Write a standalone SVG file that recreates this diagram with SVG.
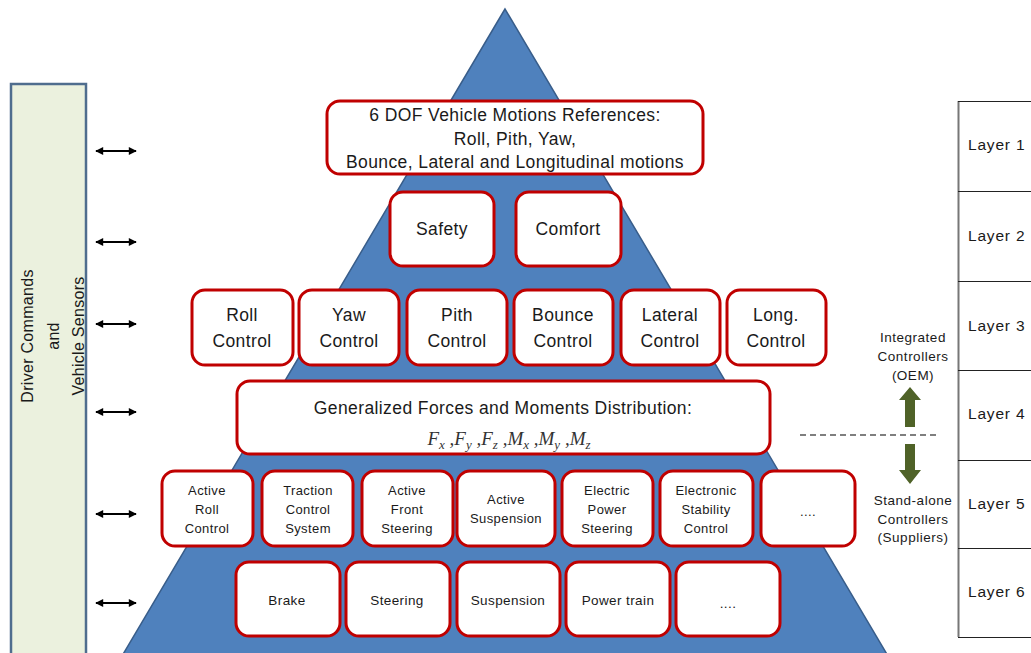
<svg xmlns="http://www.w3.org/2000/svg" width="1031" height="653" viewBox="0 0 1031 653">
<style>
.t{font-family:"Liberation Sans",Arial,sans-serif;fill:#1a1a1a;text-anchor:middle}
.b{fill:#fff;stroke:#C00000;stroke-width:3}
.f16{font-size:17.5px;letter-spacing:0.4px}
.fv{font-size:16px;letter-spacing:0.3px}
.f12{font-size:13px;letter-spacing:0.4px}
.f13{font-size:13.5px;letter-spacing:0.4px}
.lg{font-size:13.5px;letter-spacing:0.5px}
.ar{stroke:#000;stroke-width:2;marker-start:url(#ah);marker-end:url(#ah)}
.lay{font-family:"Liberation Sans",Arial,sans-serif;font-size:15.5px;letter-spacing:0.8px;fill:#1a1a1a}
.m{font-family:"Liberation Serif","Times New Roman",serif;font-style:italic;font-size:19px;fill:#333}
.ms{font-size:13px}
</style>
<defs>
<marker id="ah" viewBox="0 0 10 10" refX="9" refY="5" markerWidth="5" markerHeight="4" orient="auto-start-reverse" markerUnits="strokeWidth">
<path d="M0,0 L10,5 L0,10 z" fill="#000"/>
</marker>
</defs>
<rect width="1031" height="653" fill="#fff"/>
<g id="pyramid">
<polygon points="505,9 122,656 888,656" fill="#4F81BD" stroke="#385D8A" stroke-width="1.5"/>
</g>
<g id="side-panel">
<rect x="11" y="84" width="75" height="580" fill="#EBF1DE" stroke="#4F6D8E" stroke-width="2.5"/>
<g transform="translate(48,336) rotate(-90)">
<text class="t fv" x="0" y="-15">Driver Commands</text>
<text class="t fv" x="0" y="11">and</text>
<text class="t fv" x="0" y="36">Vehicle Sensors</text>
</g>
</g>
<g id="connectors">
<line class="ar" x1="96" y1="151" x2="136" y2="151"/>
<line class="ar" x1="96" y1="242" x2="136" y2="242"/>
<line class="ar" x1="96" y1="324" x2="136" y2="324"/>
<line class="ar" x1="96" y1="412" x2="136" y2="412"/>
<line class="ar" x1="96" y1="514" x2="136" y2="514"/>
<line class="ar" x1="96" y1="603" x2="136" y2="603"/>
</g>
<g id="n-dof">
<rect class="b" x="327" y="101" width="376" height="73" rx="13"/>
<text class="t f16" x="515" y="121">6 DOF Vehicle Motions References:</text>
<text class="t f16" x="515" y="145">Roll, Pith, Yaw,</text>
<text class="t f16" x="515" y="168">Bounce, Lateral and Longitudinal motions</text>
</g>
<g id="n-safety">
<rect class="b" x="390" y="192" width="104" height="74" rx="13"/>
<text class="t f16" x="442" y="235">Safety</text>
</g>
<g id="n-comfort">
<rect class="b" x="516" y="192" width="105" height="74" rx="13"/>
<text class="t f16" x="568" y="235">Comfort</text>
</g>
<g id="n-roll">
<rect class="b" x="192" y="290" width="101" height="75" rx="13"/>
<text class="t f16" x="242" y="321">Roll</text>
<text class="t f16" x="242" y="347">Control</text>
</g>
<g id="n-yaw">
<rect class="b" x="299" y="290" width="100" height="75" rx="13"/>
<text class="t f16" x="349" y="321">Yaw</text>
<text class="t f16" x="349" y="347">Control</text>
</g>
<g id="n-pith">
<rect class="b" x="407" y="290" width="100" height="75" rx="13"/>
<text class="t f16" x="457" y="321">Pith</text>
<text class="t f16" x="457" y="347">Control</text>
</g>
<g id="n-bounce">
<rect class="b" x="514" y="290" width="99" height="75" rx="13"/>
<text class="t f16" x="563" y="321">Bounce</text>
<text class="t f16" x="563" y="347">Control</text>
</g>
<g id="n-lateral">
<rect class="b" x="621" y="290" width="99" height="75" rx="13"/>
<text class="t f16" x="670" y="321">Lateral</text>
<text class="t f16" x="670" y="347">Control</text>
</g>
<g id="n-long">
<rect class="b" x="727" y="290" width="99" height="75" rx="13"/>
<text class="t f16" x="776" y="321">Long.</text>
<text class="t f16" x="776" y="347">Control</text>
</g>
<g id="n-forces">
<rect class="b" x="237" y="381" width="533" height="73" rx="13"/>
<text class="t f16" x="503" y="414">Generalized Forces and Moments Distribution:</text>
<text class="m" x="509" y="445" text-anchor="middle">F<tspan class="ms" dy="4">x</tspan><tspan dy="-4"> ,F</tspan><tspan class="ms" dy="4">y</tspan><tspan dy="-4"> ,F</tspan><tspan class="ms" dy="4">z</tspan><tspan dy="-4"> ,M</tspan><tspan class="ms" dy="4">x</tspan><tspan dy="-4"> ,M</tspan><tspan class="ms" dy="4">y</tspan><tspan dy="-4"> ,M</tspan><tspan class="ms" dy="4">z</tspan></text>
</g>
<g id="n-arc">
<rect class="b" x="162" y="471" width="91" height="75" rx="13"/>
<text class="t f12" x="207" y="495">Active</text>
<text class="t f12" x="207" y="514">Roll</text>
<text class="t f12" x="207" y="533">Control</text>
</g>
<g id="n-tcs">
<rect class="b" x="262" y="471" width="91" height="75" rx="13"/>
<text class="t f12" x="308" y="495">Traction</text>
<text class="t f12" x="308" y="514">Control</text>
<text class="t f12" x="308" y="533">System</text>
</g>
<g id="n-afs">
<rect class="b" x="362" y="471" width="91" height="75" rx="13"/>
<text class="t f12" x="407" y="495">Active</text>
<text class="t f12" x="407" y="514">Front</text>
<text class="t f12" x="407" y="533">Steering</text>
</g>
<g id="n-as">
<rect class="b" x="457" y="471" width="98" height="75" rx="13"/>
<text class="t f12" x="506" y="504">Active</text>
<text class="t f12" x="506" y="523">Suspension</text>
</g>
<g id="n-eps">
<rect class="b" x="562" y="471" width="91" height="75" rx="13"/>
<text class="t f12" x="607" y="495">Electric</text>
<text class="t f12" x="607" y="514">Power</text>
<text class="t f12" x="607" y="533">Steering</text>
</g>
<g id="n-esc">
<rect class="b" x="660" y="471" width="93" height="75" rx="13"/>
<text class="t f12" x="706" y="495">Electronic</text>
<text class="t f12" x="706" y="514">Stability</text>
<text class="t f12" x="706" y="533">Control</text>
</g>
<g id="n-dots5">
<rect class="b" x="761" y="471" width="94" height="75" rx="13"/>
<text class="t f12" x="808" y="516">....</text>
</g>
<g id="n-brake">
<rect class="b" x="236" y="562" width="104" height="74" rx="13"/>
<text class="t f13" x="287" y="605">Brake</text>
</g>
<g id="n-steering">
<rect class="b" x="346" y="562" width="104" height="74" rx="13"/>
<text class="t f13" x="397" y="605">Steering</text>
</g>
<g id="n-suspension">
<rect class="b" x="457" y="562" width="103" height="74" rx="13"/>
<text class="t f13" x="508" y="605">Suspension</text>
</g>
<g id="n-powertrain">
<rect class="b" x="566" y="562" width="104" height="74" rx="13"/>
<text class="t f13" x="618" y="605">Power train</text>
</g>
<g id="n-dots6">
<rect class="b" x="676" y="562" width="104" height="74" rx="13"/>
<text class="t f13" x="728" y="608">....</text>
</g>
<g id="legend">
<text class="t lg" x="913" y="342">Integrated</text>
<text class="t lg" x="913" y="361">Controllers</text>
<text class="t lg" x="913" y="380">(OEM)</text>
<polygon points="910,387 921,400 915,400 915,427 905,427 905,400 899,400" fill="#4F6228"/>
<line x1="800" y1="435" x2="937" y2="435" stroke="#555" stroke-width="1.5" stroke-dasharray="6,4"/>
<polygon points="905,444 915,444 915,470 921,470 910,484 899,470 905,470" fill="#4F6228"/>
<text class="t lg" x="913" y="505">Stand-alone</text>
<text class="t lg" x="913" y="524">Controllers</text>
<text class="t lg" x="913" y="542">(Suppliers)</text>
</g>
<g id="layers">
<line x1="958.5" y1="101" x2="958.5" y2="637" stroke="#777" stroke-width="2"/>
<g stroke="#222" stroke-width="1.2">
<line x1="958" y1="101.5" x2="1031" y2="101.5"/>
<line x1="958" y1="191.5" x2="1031" y2="191.5"/>
<line x1="958" y1="281.5" x2="1031" y2="281.5"/>
<line x1="958" y1="370.5" x2="1031" y2="370.5"/>
<line x1="958" y1="460.5" x2="1031" y2="460.5"/>
<line x1="958" y1="548.5" x2="1031" y2="548.5"/>
<line x1="958" y1="637.5" x2="1031" y2="637.5"/>
</g>
<text class="lay" x="968" y="150">Layer 1</text>
<text class="lay" x="968" y="241">Layer 2</text>
<text class="lay" x="968" y="331">Layer 3</text>
<text class="lay" x="968" y="419">Layer 4</text>
<text class="lay" x="968" y="509">Layer 5</text>
<text class="lay" x="968" y="597">Layer 6</text>
</g>
</svg>
